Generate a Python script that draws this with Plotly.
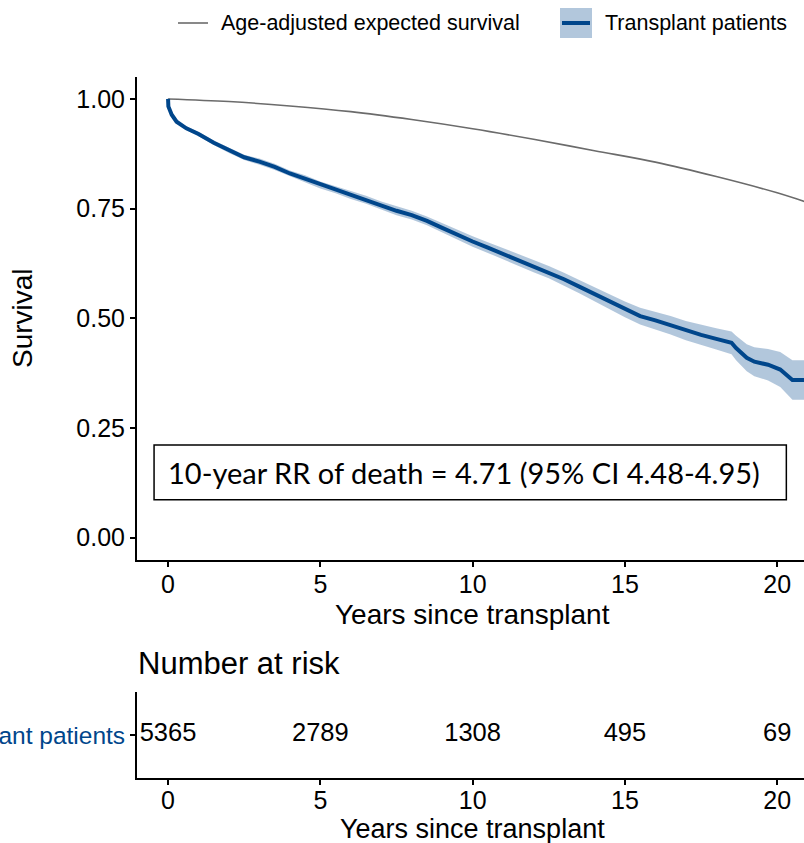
import plotly.graph_objects as go

# ---------------- data ----------------
km_time = [0, 0.01, 0.12, 0.28, 0.6, 1.0, 1.5, 2.0, 2.5, 3.0, 3.5, 4.0, 4.5, 5.0, 5.5, 6.0,
           6.5, 7.0, 7.5, 8.0, 8.5, 9.0, 9.5, 10.0, 10.5, 11.0, 11.5, 12.0, 12.5, 13.0, 13.5,
           14.0, 14.5, 15.0, 15.5, 16.0, 16.5, 17.0, 17.5, 18.0, 18.5, 18.65, 19.0, 19.25,
           19.7, 20.1, 20.5, 20.9]
km_surv = [1.0, 0.983, 0.964, 0.948, 0.933, 0.920, 0.900, 0.883, 0.867, 0.857, 0.845, 0.830,
           0.818, 0.804, 0.793, 0.781, 0.770, 0.757, 0.745, 0.735, 0.722, 0.706, 0.690, 0.675,
           0.661, 0.647, 0.633, 0.619, 0.605, 0.589, 0.572, 0.555, 0.538, 0.520, 0.505, 0.495,
           0.484, 0.472, 0.462, 0.453, 0.444, 0.432, 0.410, 0.401, 0.394, 0.383, 0.359, 0.359]
km_lower = [1.0, 0.981, 0.961, 0.944, 0.929, 0.915, 0.895, 0.877, 0.861, 0.850, 0.838, 0.823,
            0.810, 0.796, 0.785, 0.772, 0.761, 0.748, 0.735, 0.725, 0.712, 0.695, 0.679, 0.663,
            0.649, 0.634, 0.620, 0.605, 0.591, 0.574, 0.557, 0.539, 0.521, 0.502, 0.486, 0.475,
            0.463, 0.450, 0.439, 0.429, 0.418, 0.404, 0.379, 0.368, 0.358, 0.343, 0.314, 0.314]
km_upper = [1.0, 0.985, 0.967, 0.952, 0.937, 0.925, 0.905, 0.889, 0.873, 0.864, 0.852, 0.837,
            0.826, 0.812, 0.801, 0.790, 0.779, 0.766, 0.755, 0.745, 0.732, 0.717, 0.701, 0.687,
            0.673, 0.660, 0.646, 0.633, 0.619, 0.604, 0.587, 0.571, 0.555, 0.538, 0.524, 0.515,
            0.505, 0.494, 0.485, 0.477, 0.470, 0.460, 0.441, 0.434, 0.430, 0.423, 0.404, 0.404]

exp_time = [0, 2, 4, 6, 8, 10, 12, 14, 16, 18, 20, 20.9]
exp_surv = [1.0, 0.994, 0.984, 0.971, 0.953, 0.932, 0.908, 0.882, 0.856, 0.823, 0.786, 0.766]

risk_times = [0, 5, 10, 15, 20]
risk_counts = [5365, 2789, 1308, 495, 69]
group_name = "Transplant patients"
expected_name = "Age-adjusted expected survival"
x_ticks = [0, 5, 10, 15, 20]
y_ticks = [0.0, 0.25, 0.5, 0.75, 1.0]
annot_text = "10-year RR of death = 4.71 (95% CI 4.48-4.95)"

# ---------------- styling ----------------
W, H = 804, 843
ML = 137
BLUE = "#00468B"
BAND = "rgba(0,70,139,0.3)"
GREY = "#6b6b6b"
FONT = "Liberation Sans, Arial, sans-serif"
XR = [-1.02, 20.88]


def px(xp):
    return (xp - ML) / (W - ML)


def py(yp):
    return 1 - yp / H


fig = go.Figure()

# CI band
fig.add_trace(go.Scatter(x=km_time + km_time[::-1], y=km_upper + km_lower[::-1],
                         fill="toself", fillcolor=BAND, line=dict(width=0),
                         mode="lines", hoverinfo="skip", showlegend=False,
                         xaxis="x", yaxis="y"))
# expected survival
fig.add_trace(go.Scatter(x=exp_time, y=exp_surv, mode="lines", line_shape="spline",
                         line=dict(color=GREY, width=1.6), name=expected_name,
                         showlegend=False, xaxis="x", yaxis="y"))
# KM curve
fig.add_trace(go.Scatter(x=km_time, y=km_surv, mode="lines",
                         line=dict(color=BLUE, width=4), name=group_name,
                         showlegend=False, xaxis="x", yaxis="y"))
# risk table numbers
fig.add_trace(go.Scatter(x=risk_times, y=[group_name] * len(risk_times),
                         mode="text", text=[str(c) for c in risk_counts],
                         textfont=dict(family=FONT, size=25.5, color="black"),
                         textposition="middle center", showlegend=False,
                         xaxis="x2", yaxis="y2"))

axis_common = dict(showline=True, linewidth=2, linecolor="black", ticks="outside",
                   ticklen=5, tickwidth=1.5, tickcolor="black", showgrid=False,
                   zeroline=False, mirror=False, automargin=False)

fig.update_layout(
    width=W, height=H,
    margin=dict(l=ML, r=0, t=0, b=0, autoexpand=False),
    paper_bgcolor="white", plot_bgcolor="white",
    font=dict(family=FONT, color="black"),
    xaxis=dict(domain=[0, 1], range=XR, tickvals=x_ticks, anchor="y", ticklabelstandoff=-4,
               tickfont=dict(size=25, family=FONT), **axis_common),
    yaxis=dict(domain=[py(559.5), py(77)], range=[-0.05, 1.05], tickvals=y_ticks,
               tickformat=".2f", anchor="x", tickfont=dict(size=25, family=FONT),
               **axis_common),
    xaxis2=dict(domain=[0, 1], range=XR, tickvals=x_ticks, anchor="y2", ticklabelstandoff=-6,
                tickfont=dict(size=25, family=FONT), **axis_common),
    yaxis2=dict(domain=[py(778), py(692)], type="category", range=[-0.5, 0.5],
                anchor="x2", tickfont=dict(size=24.5, family=FONT, color=BLUE),
                **axis_common),
    showlegend=False,
)

shapes = [
    # RR box
    dict(type="rect", xref="x", yref="y", x0=-0.46, x1=20.3, y0=0.086, y1=0.211,
         line=dict(color="black", width=1.5), fillcolor="rgba(0,0,0,0)"),
    # legend: expected line
    dict(type="line", xref="paper", yref="paper", x0=px(178), x1=px(208), y0=py(23), y1=py(23),
         line=dict(color=GREY, width=1.6)),
    # legend: band key
    dict(type="rect", xref="paper", yref="paper", x0=px(560), x1=px(592), y0=py(38), y1=py(8),
         fillcolor=BAND, line=dict(width=0)),
    dict(type="line", xref="paper", yref="paper", x0=px(562), x1=px(590), y0=py(23), y1=py(23),
         line=dict(color=BLUE, width=4)),
]
fig.update_layout(shapes=shapes)

annotations = [
    dict(text=annot_text, xref="x", yref="y", x=-0.08, y=0.148, xanchor="left",
         yanchor="middle", showarrow=False, font=dict(family="Lato, sans-serif", size=29)),
    dict(text="Survival", xref="paper", yref="paper", x=px(22), y=py(318), textangle=-90,
         xanchor="center", yanchor="middle", showarrow=False, font=dict(size=28)),
    dict(text="Years since transplant", xref="paper", yref="paper", x=px(472), y=py(614),
         xanchor="center", yanchor="middle", showarrow=False, font=dict(size=28)),
    dict(text="Years since transplant", xref="paper", yref="paper", x=px(472), y=py(829),
         xanchor="center", yanchor="middle", showarrow=False, font=dict(size=27)),
    dict(text="Number at risk", xref="paper", yref="paper", x=px(136), y=py(663),
         xanchor="left", yanchor="middle", showarrow=False, font=dict(size=31)),
    dict(text=expected_name, xref="paper", yref="paper", x=px(219), y=py(23),
         xanchor="left", yanchor="middle", showarrow=False, font=dict(size=21.5)),
    dict(text=group_name, xref="paper", yref="paper", x=px(603), y=py(23),
         xanchor="left", yanchor="middle", showarrow=False, font=dict(size=21.5)),
]
fig.update_layout(annotations=annotations)

fig.write_html("out.html")
